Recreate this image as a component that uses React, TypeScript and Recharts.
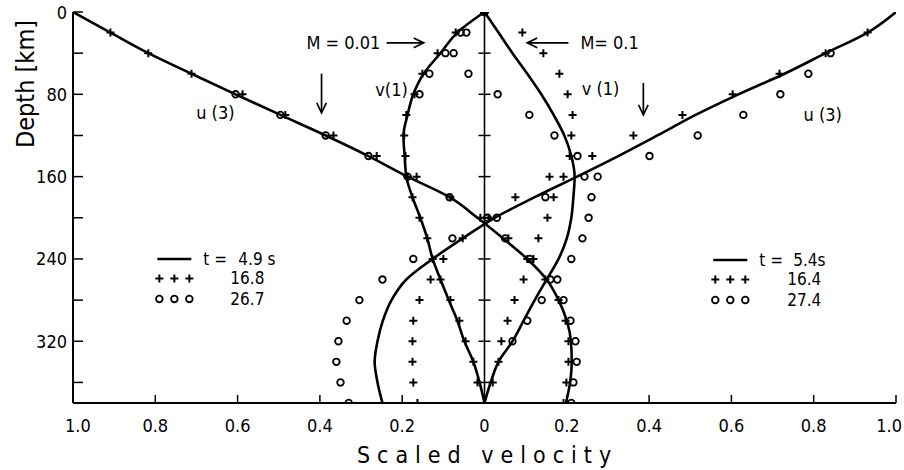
import React from 'react';
import { ScatterChart, Scatter, XAxis, YAxis, ReferenceLine, ReferenceDot } from 'recharts';

const FONT = "'Liberation Sans Narrow', 'DejaVu Sans Condensed', 'Roboto Condensed', 'Liberation Sans', sans-serif";

// depth grid of every profile [km]
const depthKm = [0, 20, 40, 60, 80, 100, 120, 140, 160, 180, 200, 220, 240, 260, 280, 300, 320, 340, 360, 380];

// M = 0.01, plotted to the left of the centre line
const u3LowLine = [1.0, 0.909, 0.817, 0.712, 0.605, 0.496, 0.386, 0.282, 0.187, 0.085, 0.017, -0.045, -0.104, -0.151, -0.18, -0.2, -0.21, -0.212, -0.208, -0.198]; // t = 4.9 s
const u3LowPlus = [0.909, 0.817, 0.712, 0.588, 0.484, 0.367, 0.262, 0.165, 0.083, 0.01, -0.058, -0.104, -0.148, -0.18, -0.197, -0.204, -0.204, -0.199, -0.192]; // 16.8 s, from 20 km
const u3LowRing = [0.605, 0.496, 0.386, 0.282, 0.187, 0.085, -0.007, -0.05, -0.11, -0.16, -0.192, -0.209, -0.221, -0.224, -0.216, -0.211]; // 26.7 s, from 80 km
const v1LowLine = [0, 0.066, 0.107, 0.148, 0.173, 0.187, 0.197, 0.194, 0.19, 0.175, 0.156, 0.139, 0.126, 0.107, 0.087, 0.066, 0.049, 0.027, 0.012, 0];
const v1LowPlus = [0, 0.07, 0.114, 0.151, 0.17, 0.19, 0.195, 0.192, 0.187, 0.175, 0.158, 0.139, 0.126, 0.107, 0.083, 0.061, 0.046, 0.027, 0.017, 0];
const v1LowRing = [0, 0.058, 0.095, 0.134, 0.158];

// M = 0.1, plotted to the right of the centre line
const u3HighLine = [1.0, 0.931, 0.829, 0.729, 0.617, 0.513, 0.42, 0.325, 0.225, 0.122, 0.025, -0.053, -0.126, -0.19, -0.226, -0.247, -0.26, -0.267, -0.26, -0.248]; // t = 5.4 s
const u3HighPlus = [0.931, 0.829, 0.717, 0.603, 0.481, 0.362, 0.262, 0.158, 0.075, 0.01, -0.053, -0.1, -0.131, -0.158, -0.173, -0.175, -0.175, -0.173, -0.163]; // 16.4 s, from 20 km
const u3HighRing = [0.841, 0.787, 0.719, 0.629, 0.518, 0.401, 0.275, 0.148, 0.03, -0.078, -0.173, -0.248, -0.304, -0.335, -0.355, -0.36, -0.35, -0.33]; // 27.4 s, from 40 km
const v1HighLine = [0, 0.034, 0.068, 0.104, 0.138, 0.168, 0.194, 0.211, 0.219, 0.216, 0.211, 0.2, 0.18, 0.151, 0.122, 0.095, 0.068, 0.034, 0.015, 0];
const v1HighPlus = [0, 0.092, 0.143, 0.182, 0.202, 0.214, 0.211, 0.207, 0.192, 0.168, 0.153, 0.131, 0.119, 0.095, 0.073, 0.056, 0.041, 0.034, 0.02, 0];
const v1HighRing = [0, -0.044, -0.075, -0.039, 0.032, 0.109, 0.17, 0.226, 0.243, 0.26, 0.253, 0.238, 0.211, 0.177, 0.139, 0.104, 0.068];

const velTicks = [-1, -0.8, -0.6, -0.4, -0.2, 0, 0.2, 0.4, 0.6, 0.8, 1];
const depthTicks = [0, 40, 80, 120, 160, 200, 240, 280, 320, 360];
const depthLabels = [0, 80, 160, 240, 320];
const centreTicks = [40, 80, 120, 160, 200, 240, 280, 320, 360];

type Pt = { x: number; y: number };

// side = -1 puts a profile left of the centre line
const profile = (vals: number[], fromKm: number, side: number): Pt[] => {
  const start = depthKm.indexOf(fromKm);
  return vals.map((v, i) => ({ x: side * v, y: depthKm[start + i] }));
};

const fmtVel = (v: number) => (v === 0 ? '0' : Math.abs(v).toFixed(1));

const NoDot = () => <g />;

const Plus = (p: any) => (
  <path d={`M${p.cx - 4},${p.cy}h8M${p.cx},${p.cy - 4}v8`} stroke="#000" strokeWidth={2} fill="none" />
);

const Ring = (p: any) => <circle cx={p.cx} cy={p.cy} r={3.3} fill="none" stroke="#000" strokeWidth={1.8} />;

const CentreTick = (p: any) => (
  <line x1={p.cx - 6} y1={p.cy} x2={p.cx + 6} y2={p.cy} stroke="#000" strokeWidth={1.5} />
);

const Arrow = (p: any) => {
  const { x1, y1, x2, y2 } = p;
  const ang = Math.atan2(y2 - y1, x2 - x1);
  const len = 11;
  const a1 = ang + Math.PI - 0.45;
  const a2 = ang + Math.PI + 0.45;
  return (
    <g stroke="#000" strokeWidth={1.7} fill="none">
      <line x1={x1} y1={y1} x2={x2} y2={y2} />
      <path
        d={`M${x2 + len * Math.cos(a1)},${y2 + len * Math.sin(a1)}L${x2},${y2}L${x2 + len * Math.cos(a2)},${y2 + len * Math.sin(a2)}`}
      />
    </g>
  );
};

const note = (text: string) => (p: any) => (
  <text x={p.cx} y={p.cy} textAnchor="middle" dominantBaseline="central" fontFamily={FONT} fontSize={18} fill="#000">
    {text}
  </text>
);

const legendKey = (first: string, second: string, third: string, valueDx: number, firstDx: number) => (p: any) => {
  const { cx, cy } = p;
  const txt = { fontFamily: FONT, fontSize: 17, fill: '#000', dominantBaseline: 'central' as const };
  const marks = [2, 17, 32];
  return (
    <g>
      <line x1={cx} y1={cy} x2={cx + 34} y2={cy} stroke="#000" strokeWidth={2.4} />
      {marks.map((m) => (
        <Plus key={`p${m}`} cx={cx + m} cy={cy + 19.5} />
      ))}
      {marks.map((m) => (
        <Ring key={`r${m}`} cx={cx + m} cy={cy + 40} />
      ))}
      <text x={cx + 46} y={cy} {...txt}>t =</text>
      <text x={cx + firstDx} y={cy} {...txt}>{first}</text>
      <text x={cx + valueDx} y={cy + 19.5} {...txt}>{second}</text>
      <text x={cx + valueDx} y={cy + 40} {...txt}>{third}</text>
    </g>
  );
};

const BottomTick = ({ x, y, payload, index }: any) => {
  const last = index === velTicks.length - 1;
  const first = index === 0;
  return (
    <g>
      <line x1={x} y1={y} x2={x} y2={y - 8} stroke="#000" strokeWidth={1.5} />
      <text
        x={first ? x - 8 : last ? x + 6 : x}
        y={y + 22}
        textAnchor={first ? 'start' : last ? 'end' : 'middle'}
        dominantBaseline="central"
        fontFamily={FONT}
        fontSize={18}
        fill="#000"
      >
        {fmtVel(payload.value)}
      </text>
    </g>
  );
};

const TopTick = ({ x, y }: any) => <line x1={x} y1={y} x2={x} y2={y + 8} stroke="#000" strokeWidth={1.5} />;

const LeftTick = ({ x, y, payload }: any) => (
  <g>
    <line x1={x} y1={y} x2={x + 10} y2={y} stroke="#000" strokeWidth={1.5} />
    {depthLabels.includes(payload.value) && (
      <text x={x - 6} y={y} textAnchor="end" dominantBaseline="central" fontFamily={FONT} fontSize={18} fill="#000">
        {payload.value}
      </text>
    )}
  </g>
);

const RightTick = ({ x, y }: any) => <line x1={x} y1={y} x2={x - 8} y2={y} stroke="#000" strokeWidth={1.5} />;

const lineStyle = { stroke: '#000', strokeWidth: 2.6 };
const axisStyle = { stroke: '#000', strokeWidth: 2 };
const ids = { xAxisId: 'b', yAxisId: 'l' };

export default function App() {
  return (
    <div style={{ position: 'absolute', left: 0, top: 0, background: '#fff' }}>
      <ScatterChart width={904} height={470} margin={{ top: 12, right: 8, bottom: 0, left: 0 }}>
        <XAxis
          xAxisId="b"
          type="number"
          dataKey="x"
          domain={[-1, 1]}
          ticks={velTicks}
          interval={0}
          height={67}
          tickSize={0}
          tickMargin={0}
          axisLine={axisStyle}
          tick={BottomTick}
          allowDataOverflow
          label={{
            content: (lp: any) => (
              <text
                x={lp.viewBox.x + lp.viewBox.width / 2 + 3}
                y={lp.viewBox.y + 52}
                textAnchor="middle"
                dominantBaseline="central"
                fontFamily={FONT}
                fontSize={23}
                letterSpacing={7}
                fill="#000"
              >
                Scaled velocity
              </text>
            ),
          }}
        />
        <XAxis
          xAxisId="t"
          orientation="top"
          type="number"
          domain={[-1, 1]}
          ticks={velTicks}
          interval={0}
          height={0}
          tickSize={0}
          tickMargin={0}
          axisLine={axisStyle}
          tick={TopTick}
          allowDataOverflow
        />
        <YAxis
          yAxisId="l"
          type="number"
          dataKey="y"
          domain={[0, 380]}
          reversed
          ticks={depthTicks}
          interval={0}
          width={73}
          tickSize={0}
          tickMargin={0}
          axisLine={axisStyle}
          tick={LeftTick}
          allowDataOverflow
          label={{
            content: (lp: any) => (
              <text
                transform={`translate(${lp.viewBox.x + 25},${lp.viewBox.y + 72}) rotate(-90)`}
                textAnchor="middle"
                dominantBaseline="central"
                fontFamily={FONT}
                fontSize={25}
                fill="#000"
              >
                Depth [km]
              </text>
            ),
          }}
        />
        <YAxis
          yAxisId="r"
          orientation="right"
          type="number"
          domain={[0, 380]}
          reversed
          ticks={depthTicks}
          interval={0}
          width={0}
          tickSize={0}
          tickMargin={0}
          axisLine={axisStyle}
          tick={RightTick}
          allowDataOverflow
        />

        <ReferenceLine {...ids} x={0} stroke="#000" strokeWidth={1.6} />
        <Scatter {...ids} data={centreTicks.map((d) => ({ x: 0, y: d }))} shape={CentreTick} isAnimationActive={false} />

        {/* M = 0.01 */}
        <Scatter {...ids} data={profile(u3LowLine, 0, -1)} line={lineStyle} lineJointType="monotoneY" shape={NoDot} isAnimationActive={false} />
        <Scatter {...ids} data={profile(v1LowLine, 0, -1)} line={lineStyle} lineJointType="monotoneY" shape={NoDot} isAnimationActive={false} />
        <Scatter {...ids} data={profile(u3LowPlus, 20, -1)} shape={Plus} isAnimationActive={false} />
        <Scatter {...ids} data={profile(u3LowRing, 80, -1)} shape={Ring} isAnimationActive={false} />
        <Scatter {...ids} data={profile(v1LowPlus, 0, -1)} shape={Plus} isAnimationActive={false} />
        <Scatter {...ids} data={profile(v1LowRing, 0, -1)} shape={Ring} isAnimationActive={false} />

        {/* M = 0.1 */}
        <Scatter {...ids} data={profile(u3HighLine, 0, 1)} line={lineStyle} lineJointType="monotoneY" shape={NoDot} isAnimationActive={false} />
        <Scatter {...ids} data={profile(v1HighLine, 0, 1)} line={lineStyle} lineJointType="monotoneY" shape={NoDot} isAnimationActive={false} />
        <Scatter {...ids} data={profile(u3HighPlus, 20, 1)} shape={Plus} isAnimationActive={false} />
        <Scatter {...ids} data={profile(u3HighRing, 40, 1)} shape={Ring} isAnimationActive={false} />
        <Scatter {...ids} data={profile(v1HighPlus, 0, 1)} shape={Plus} isAnimationActive={false} />
        <Scatter {...ids} data={profile(v1HighRing, 0, 1)} shape={Ring} isAnimationActive={false} />

        {/* annotations */}
        <ReferenceDot {...ids} x={-0.343} y={30} r={0} shape={note('M = 0.01')} />
        <ReferenceDot {...ids} x={0.304} y={30} r={0} shape={note('M= 0.1')} />
        <ReferenceDot {...ids} x={-0.226} y={75} r={0} shape={note('v(1)')} />
        <ReferenceDot {...ids} x={0.282} y={74} r={0} shape={note('v (1)')} />
        <ReferenceDot {...ids} x={-0.654} y={98} r={0} shape={note('u (3)')} />
        <ReferenceDot {...ids} x={0.822} y={100} r={0} shape={note('u (3)')} />
        <ReferenceLine {...ids} segment={[{ x: -0.238, y: 30 }, { x: -0.148, y: 30 }]} shape={Arrow} />
        <ReferenceLine {...ids} segment={[{ x: 0.204, y: 30 }, { x: 0.104, y: 30 }]} shape={Arrow} />
        <ReferenceLine {...ids} segment={[{ x: -0.396, y: 60 }, { x: -0.396, y: 98 }]} shape={Arrow} />
        <ReferenceLine {...ids} segment={[{ x: 0.386, y: 69 }, { x: 0.386, y: 100 }]} shape={Arrow} />

        {/* legends */}
        <ReferenceDot {...ids} x={-0.795} y={240} r={0} shape={legendKey('4.9 s', '16.8', '26.7', 73, 81)} />
        <ReferenceDot {...ids} x={0.556} y={241} r={0} shape={legendKey('5.4s', '16.4', '27.4', 74, 80)} />
      </ScatterChart>
    </div>
  );
}
